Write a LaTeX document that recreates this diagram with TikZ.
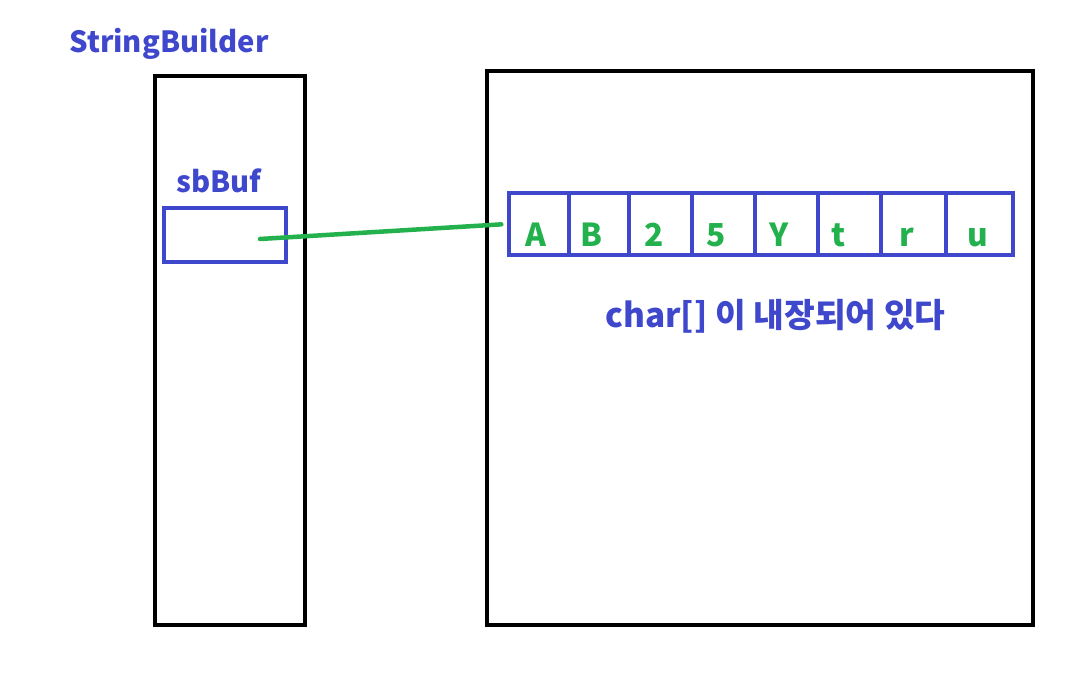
\documentclass[tikz,border=0pt]{standalone}
\usepackage{fontspec}
\setmainfont{Noto Sans CJK KR}
\usetikzlibrary{positioning}
\definecolor{paintBlue}{HTML}{3F48CC}
\definecolor{paintGreen}{HTML}{22B14C}
\tikzset{
    label text/.style={paintBlue, font=\bfseries\fontsize{16.6}{20}\selectfont, inner sep=0pt, anchor=base west},
    cell text/.style={paintGreen, font=\bfseries\fontsize{18}{20}\selectfont, inner sep=0pt, anchor=base},
    heap box/.style={draw, line width=0.09cm},
    ref box/.style={draw=paintBlue, line width=0.07cm, inner sep=0pt}
}
\begin{document}
\begin{tikzpicture}[x=0.02cm, y=-0.02cm]
    \useasboundingbox (0,0) rectangle (1090,688);

    % StringBuilder object
    \draw[heap box] (155,76) rectangle (305,625);
    \node[label text] (sbName) at (69,53) {StringBuilder};
    \node[label text] (bufName) at (176,193) {sbBuf};
    \node[ref box, minimum width=2.44cm, minimum height=1.08cm] (slot) at (225,235) {};

    % char[] object
    \draw[heap box] (487,71) rectangle (1033,625);
    \node[ref box, minimum width=10.08cm, minimum height=1.24cm] (arr) at (761,224) {};
    \draw[paintBlue, line width=0.07cm] (569,193) -- (569,255) (629,193) -- (629,255)
        (692,193) -- (692,255) (755,193) -- (755,255) (818,193) -- (818,255)
        (881,193) -- (881,255) (946,193) -- (946,255);
    \node[cell text] (cA) at (536,247) {A};
    \node[cell text] (cB) at (591,247) {B};
    \node[cell text] (c2) at (654,247) {2};
    \node[cell text] (c5) at (716,247) {5};
    \node[cell text] (cY) at (779,247) {Y};
    \node[cell text] (ct) at (839,247) {t};
    \node[cell text] (cr) at (907,247) {r};
    \node[cell text] (cu) at (978,247) {u};
    \node[label text, font=\bfseries\fontsize{19}{22}\selectfont] (arrNote) at (605,328) {char[] 이 내장되어 있다};

    % reference
    \coordinate (refStart) at (260,239);
    \draw[paintGreen, line width=0.09cm, line cap=round, shorten >=0.12cm] (refStart) -- (arr.west);
\end{tikzpicture}
\end{document}
